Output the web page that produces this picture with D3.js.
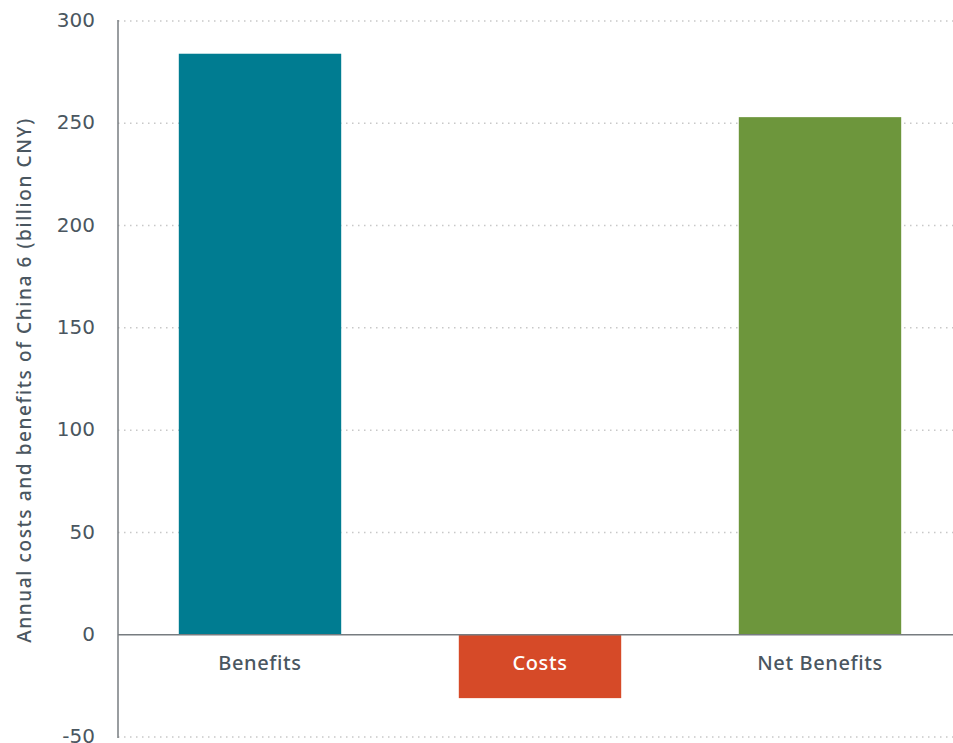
<!DOCTYPE html>
<html lang="en">
<head>
    <meta charset="UTF-8">
    <title>Annual costs and benefits of China 6</title>
    <script src="https://d3js.org/d3.v7.min.js"></script>
    <style>
        body { margin: 0; background: #fff; font-family: "Noto Sans", Arial, sans-serif; }
        .tick text { fill: #4a5660; font-size: 20px; font-family: "DejaVu Sans", sans-serif; }
        .cat { font-size: 20px; font-weight: 500; letter-spacing: 0.6px; }
    </style>
</head>
<body>
    <svg id="chart" width="953" height="743"></svg>

    <script>
        // chart data
        const categories = ["Benefits", "Costs", "Net Benefits"];
        const values = [284, -31, 253];
        const barColors = ["#007c91", "#d64a28", "#6d963c"];
        const yTicks = [-50, 0, 50, 100, 150, 200, 250, 300];

        const svg = d3.select("#chart");
        const width = 953;

        const x = d3.scaleBand()
            .domain(categories)
            .range([120, 960])
            .paddingInner(0.42)
            .paddingOuter(0.21);

        const y = d3.scaleLinear()
            .domain([-50, 300])
            .range([737, 21]);

        // dotted gridlines
        svg.append("g")
            .selectAll("line")
            .data(yTicks.filter(d => d !== 0))
            .join("line")
            .attr("x1", 118)
            .attr("x2", width)
            .attr("y1", d => y(d))
            .attr("y2", d => y(d))
            .attr("stroke", "#c8c8c8")
            .attr("stroke-width", 1.5)
            .attr("stroke-dasharray", "1.5,4.5");

        // bars
        svg.append("g")
            .selectAll("rect")
            .data(values)
            .join("rect")
            .attr("x", (d, i) => x(categories[i]))
            .attr("width", x.bandwidth())
            .attr("y", d => y(Math.max(0, d)))
            .attr("height", d => Math.abs(y(d) - y(0)))
            .attr("fill", (d, i) => barColors[i]);

        // zero line
        svg.append("line")
            .attr("x1", 118)
            .attr("x2", width)
            .attr("y1", y(0))
            .attr("y2", y(0))
            .attr("stroke", "#777c80")
            .attr("stroke-width", 1.5);

        // y axis
        const yAxis = svg.append("g")
            .attr("transform", "translate(118,0)")
            .call(d3.axisLeft(y).tickValues(yTicks).tickSize(0).tickPadding(23)
                .tickFormat(d => String(d)));
        yAxis.select(".domain")
            .attr("stroke", "#777c80")
            .attr("stroke-width", 1.5)
            .attr("d", `M0,${y(300) - 1}V${y(-50) + 1}`);
        yAxis.selectAll(".tick text").attr("dy", "0.28em");

        // category labels
        svg.append("g")
            .selectAll("text")
            .data(categories)
            .join("text")
            .attr("class", "cat")
            .attr("x", d => x(d) + x.bandwidth() / 2)
            .attr("y", y(0) + 35)
            .attr("text-anchor", "middle")
            .attr("fill", (d, i) => values[i] < 0 ? "#ffffff" : "#4a5660")
            .text(d => d);

        // y axis title
        svg.append("text")
            .attr("transform", `translate(31,${(y(300) + y(-50)) / 2 + 1}) rotate(-90)`)
            .attr("text-anchor", "middle")
            .attr("fill", "#4a5660")
            .style("font-size", "19px")
            .style("font-weight", "500")
            .style("letter-spacing", "1.6px")
            .text("Annual costs and benefits of China 6 (billion CNY)");
    </script>
</body>
</html>
